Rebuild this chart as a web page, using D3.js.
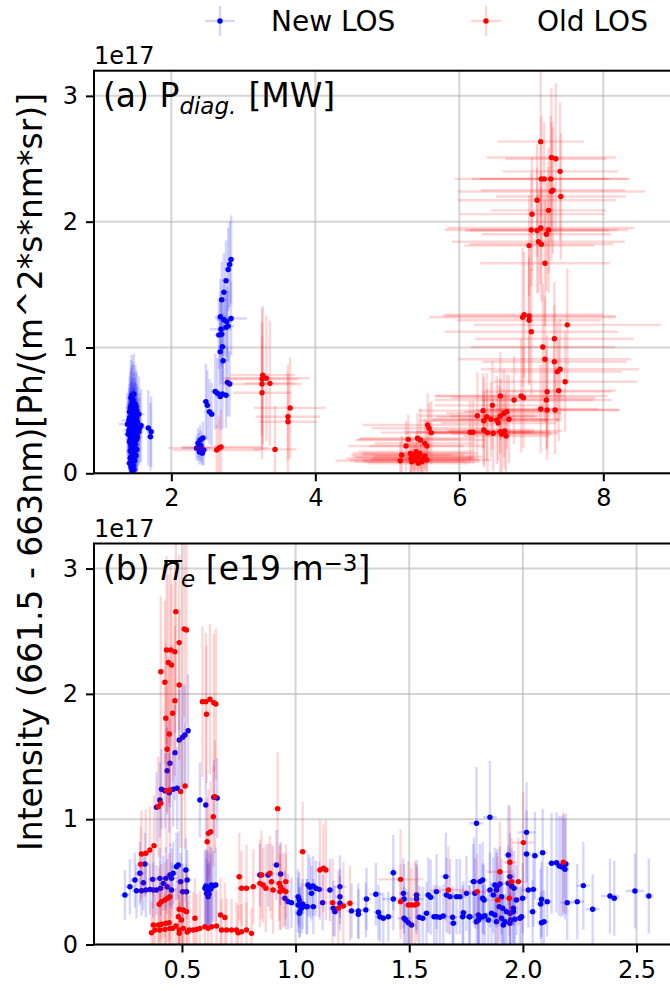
<!DOCTYPE html>
<html>
<head>
<meta charset="utf-8"/>
<script src="https://d3js.org/d3.v7.min.js"></script>
<style>
  body { margin: 0; background: #fff; }
  text { font-family: "DejaVu Sans", sans-serif; fill: #000; }
</style>
</head>
<body>
<svg id="fig" width="670" height="991"></svg>
<script>
// ticks
const pdiagTicks = [2, 4, 6, 8];
const neTicks = [0.5, 1.0, 1.5, 2.0, 2.5];
const intensityTicks = [0, 1, 2, 3];

// rows are [x, y, xerr, yerr], y in units of 1e17
// panel (a): P_diag [MW]
const pdiagNew = [
  [1.45,0.62,0.05,0.32],[1.47,0.58,0.06,0.30],[1.50,0.55,0.05,0.31],[1.43,0.52,0.07,0.29],
  [1.52,0.50,0.05,0.30],[1.46,0.48,0.06,0.28],[1.55,0.47,0.08,0.30],[1.44,0.45,0.05,0.27],
  [1.49,0.43,0.06,0.29],[1.41,0.42,0.10,0.26],[1.53,0.41,0.05,0.28],[1.47,0.40,0.06,0.27],
  [1.39,0.39,0.12,0.25],[1.50,0.38,0.05,0.27],[1.44,0.37,0.06,0.26],[1.56,0.36,0.07,0.28],
  [1.42,0.35,0.05,0.25],[1.48,0.34,0.06,0.26],[1.46,0.33,0.05,0.25],[1.51,0.32,0.08,0.27],
  [1.40,0.31,0.06,0.24],[1.45,0.30,0.05,0.25],[1.53,0.29,0.06,0.26],[1.47,0.28,0.05,0.24],
  [1.43,0.27,0.07,0.23],[1.50,0.26,0.05,0.25],[1.46,0.24,0.06,0.23],[1.44,0.22,0.05,0.22],
  [1.48,0.20,0.06,0.22],[1.52,0.19,0.05,0.21],[1.45,0.17,0.06,0.20],[1.47,0.15,0.05,0.20],
  [1.43,0.12,0.05,0.18],[1.49,0.10,0.06,0.17],[1.46,0.07,0.05,0.15],[1.45,0.04,0.05,0.12],
  [1.48,0.40,0.06,0.28],[1.42,0.44,0.05,0.27],[1.55,0.33,0.06,0.27],[1.58,0.38,0.05,0.29],
  [1.44,0.60,0.06,0.30],[1.48,0.63,0.05,0.32],[1.46,0.56,0.07,0.30],[1.51,0.53,0.05,0.29],
  [1.42,0.49,0.06,0.28],[1.49,0.47,0.05,0.29],[1.45,0.46,0.08,0.28],[1.52,0.44,0.06,0.27],
  [1.47,0.42,0.05,0.28],[1.43,0.40,0.06,0.26],[1.50,0.36,0.07,0.27],[1.46,0.35,0.05,0.26],
  [1.41,0.34,0.08,0.25],[1.49,0.31,0.06,0.26],[1.44,0.29,0.05,0.24],[1.48,0.27,0.06,0.25],
  [1.42,0.25,0.05,0.23],[1.50,0.23,0.06,0.24],[1.45,0.21,0.05,0.22],[1.47,0.19,0.07,0.21],
  [1.43,0.18,0.05,0.20],[1.49,0.16,0.06,0.20],[1.46,0.14,0.05,0.19],[1.44,0.13,0.06,0.18],
  [1.48,0.11,0.05,0.17],[1.45,0.09,0.06,0.16],[1.47,0.06,0.05,0.14],[1.44,0.05,0.05,0.13],
  [1.48,0.03,0.06,0.12],[1.46,0.02,0.05,0.10],[1.51,0.14,0.05,0.18],[1.42,0.08,0.06,0.15],
  [1.50,0.45,0.05,0.28],[1.45,0.39,0.06,0.27],[1.47,0.36,0.05,0.26],[1.43,0.31,0.05,0.25],
  [1.52,0.27,0.06,0.26],[1.46,0.26,0.05,0.24],[1.48,0.51,0.05,0.29],[1.44,0.54,0.06,0.30],
  [1.68,0.36,0.05,0.30],[1.72,0.33,0.05,0.28],[1.71,0.29,0.05,0.27],
  [2.83,1.70,0.05,0.35],[2.81,1.66,0.05,0.34],[2.79,1.62,0.05,0.33],[2.76,1.53,0.06,0.32],
  [2.73,1.44,0.05,0.31],[2.70,1.38,0.06,0.30],[2.68,1.245,0.08,0.30],[2.73,1.22,0.10,0.29],
  [2.77,1.205,0.07,0.28],[2.83,1.23,0.22,0.29],[2.79,1.17,0.08,0.28],[2.76,1.16,0.06,0.27],
  [2.69,1.145,0.15,0.28],[2.66,1.10,0.06,0.27],[2.70,1.105,0.05,0.26],[2.71,1.006,0.06,0.27],
  [2.68,0.967,0.05,0.26],[2.72,0.895,0.06,0.25],[2.78,0.723,0.08,0.27],[2.81,0.71,0.05,0.26],
  [2.61,0.65,0.06,0.30],[2.64,0.636,0.05,0.28],[2.68,0.61,0.07,0.27],[2.71,0.63,0.05,0.28],
  [2.76,0.62,0.06,0.26],[2.48,0.57,0.05,0.30],[2.50,0.54,0.05,0.28],[2.53,0.49,0.06,0.26],
  [2.56,0.47,0.05,0.25],[2.40,0.265,0.06,0.12],[2.44,0.28,0.05,0.13],[2.37,0.24,0.05,0.12],
  [2.35,0.20,0.20,0.10],[2.42,0.19,0.06,0.11],[2.39,0.17,0.05,0.10],[2.45,0.185,0.06,0.12],
  [2.41,0.22,0.05,0.12],[2.38,0.21,0.06,0.11],[2.43,0.16,0.05,0.10]
];
const pdiagOld = [
  [2.63,0.185,0.60,0.20],[2.66,0.20,0.70,0.25],[2.69,0.21,0.55,0.30],
  [3.27,0.78,0.45,0.55],[3.32,0.755,0.60,0.50],[3.26,0.75,0.50,0.45],[3.37,0.715,0.35,0.50],
  [3.26,0.71,0.55,0.60],[3.26,0.64,0.40,0.45],[3.44,0.19,0.30,0.35],[3.65,0.52,0.50,0.40],
  [3.62,0.45,0.45,0.35],[3.62,0.41,0.40,0.45],
  [7.13,2.636,0.6,0.60],[7.28,2.51,0.9,0.55],[7.34,2.50,0.7,0.60],[7.40,2.40,0.8,0.55],
  [7.14,2.34,1.2,0.50],[7.18,2.34,0.9,0.45],[7.27,2.34,1.1,0.50],[7.28,2.24,1.3,0.55],
  [7.30,2.25,1.0,0.50],[7.41,2.20,0.9,0.50],[7.08,2.17,1.1,0.45],[7.24,2.09,0.8,0.50],
  [7.01,2.06,1.0,0.45],[7.00,1.934,1.2,0.45],[7.08,1.93,1.0,0.50],[7.13,1.95,1.3,0.45],
  [7.24,1.934,1.1,0.50],[7.21,1.90,0.9,0.45],[7.10,1.84,1.2,0.40],[7.14,1.82,1.0,0.45],
  [6.97,1.81,0.9,0.40],[7.19,1.67,0.9,0.50],[6.88,1.24,1.3,0.55],[6.90,1.26,1.1,0.50],
  [6.97,1.25,1.2,0.55],[6.97,1.216,1.0,0.50],[7.50,1.18,1.3,0.45],[7.00,1.125,1.2,0.50],
  [7.32,1.07,1.1,0.45],[7.16,1.004,1.0,0.50],[7.19,0.906,1.2,0.50],[7.32,0.887,1.0,0.45],
  [7.40,0.827,1.1,0.40],[7.36,0.808,0.9,0.40],[7.47,0.728,1.0,0.40],[7.38,0.657,0.8,0.40],
  [7.22,0.649,0.9,0.45],[6.86,0.615,1.2,0.45],[6.89,0.60,1.0,0.40],[6.76,0.583,1.1,0.35],
  [7.21,0.583,0.9,0.40],[7.13,0.511,0.8,0.35],[7.22,0.503,1.0,0.40],[7.33,0.503,0.9,0.35],
  [6.57,0.615,0.9,0.35],[6.46,0.54,0.8,0.35],[6.33,0.498,0.9,0.30],[6.25,0.458,0.8,0.35],
  [6.38,0.45,0.7,0.35],[6.44,0.43,0.8,0.30],[6.52,0.424,0.9,0.35],[6.57,0.455,0.7,0.30],
  [6.62,0.477,0.8,0.35],[6.66,0.49,0.6,0.30],[6.69,0.43,0.7,0.35],[6.54,0.40,0.8,0.30],
  [6.34,0.418,0.9,0.35],[6.34,0.344,0.7,0.30],[6.39,0.323,0.8,0.35],[6.47,0.318,0.9,0.30],
  [6.57,0.33,0.7,0.35],[6.63,0.336,0.8,0.30],[6.65,0.296,0.6,0.35],[6.59,0.312,0.7,0.30],
  [6.15,0.326,0.9,0.25],[6.19,0.326,0.8,0.25],[5.56,0.384,0.9,0.25],[5.58,0.358,0.8,0.20],
  [5.61,0.323,0.7,0.25],[5.42,0.278,0.8,0.20],[5.46,0.265,0.9,0.25],[5.52,0.238,0.7,0.20],
  [5.55,0.217,0.8,0.20],[5.29,0.27,0.7,0.20],[5.26,0.217,0.8,0.20],[5.20,0.145,0.7,0.15],
  [5.18,0.10,0.9,0.15],[5.32,0.158,0.8,0.15],[5.36,0.145,0.7,0.12],[5.42,0.132,0.9,0.15],
  [5.45,0.158,0.8,0.12],[5.50,0.119,0.7,0.15],[5.38,0.106,0.9,0.12],[5.34,0.092,0.8,0.12],
  [5.43,0.079,0.7,0.12],[5.48,0.092,0.8,0.15],[5.52,0.138,0.7,0.12],[5.40,0.172,0.8,0.15],
  [5.55,0.106,0.9,0.12],[5.37,0.125,0.8,0.12],[5.47,0.112,0.7,0.12],[5.33,0.118,0.9,0.15]
];

// panel (b): line averaged density [e19 m^-3]
const neNew = [
  [0.527,1.706,0.01,0.45],[0.513,1.672,0.01,0.40],[0.503,1.654,0.01,0.42],[0.488,1.632,0.01,0.40],
  [0.469,1.531,0.01,0.38],[0.447,1.446,0.01,0.35],[0.435,1.387,0.01,0.35],[0.41,1.239,0.01,0.32],
  [0.425,1.227,0.01,0.30],[0.444,1.211,0.01,0.32],[0.461,1.239,0.01,0.30],[0.479,1.247,0.01,0.33],
  [0.403,1.153,0.01,0.30],[0.388,1.095,0.01,0.28],[0.579,1.153,0.01,0.30],[0.605,1.113,0.01,0.28],
  [0.64,1.175,0.01,0.30],[0.655,1.169,0.01,0.32],
  [0.249,0.395,0.02,0.20],[0.271,0.461,0.02,0.22],[0.293,0.515,0.02,0.22],[0.315,0.568,0.02,0.25],
  [0.337,0.642,0.02,0.25],[0.30,0.429,0.02,0.22],[0.322,0.429,0.02,0.20],[0.341,0.435,0.02,0.22],
  [0.359,0.44,0.02,0.20],[0.374,0.435,0.02,0.22],[0.388,0.435,0.02,0.20],[0.406,0.449,0.02,0.22],
  [0.418,0.488,0.02,0.22],[0.429,0.528,0.02,0.25],[0.447,0.555,0.02,0.25],[0.461,0.568,0.02,0.25],
  [0.476,0.621,0.02,0.27],[0.484,0.634,0.02,0.27],[0.454,0.528,0.02,0.24],[0.435,0.461,0.02,0.22],
  [0.454,0.435,0.02,0.22],[0.494,0.501,0.02,0.23],[0.503,0.421,0.02,0.22],[0.52,0.421,0.02,0.22],
  [0.523,0.515,0.02,0.24],[0.517,0.595,0.02,0.25],[0.33,0.493,0.02,0.22],[0.371,0.52,0.02,0.23],
  [0.403,0.528,0.02,0.24],
  [0.601,0.449,0.01,0.30],[0.608,0.409,0.01,0.28],[0.615,0.435,0.01,0.30],[0.623,0.461,0.01,0.32],
  [0.63,0.475,0.01,0.30],[0.638,0.467,0.01,0.28],[0.649,0.475,0.01,0.30],[0.615,0.381,0.01,0.26],
  [0.605,0.467,0.01,0.30],[0.611,0.455,0.01,0.30],[0.627,0.442,0.01,0.28],[0.619,0.402,0.01,0.26],
  [0.843,0.555,0.02,0.25],[0.879,0.555,0.02,0.25],[0.916,0.634,0.02,0.28],[0.934,0.563,0.02,0.25],
  [0.953,0.369,0.02,0.22],[0.967,0.342,0.02,0.22],[0.982,0.334,0.02,0.20],[1.011,0.315,0.02,0.22],
  [1.019,0.262,0.02,0.20],[1.016,0.355,0.02,0.22],[1.026,0.289,0.02,0.20],[1.048,0.302,0.02,0.22],
  [1.055,0.475,0.02,0.25],[1.011,0.381,0.02,0.22],[1.031,0.323,0.02,0.20],[1.016,0.249,0.02,0.20],
  [1.063,0.456,0.02,0.24],[1.077,0.467,0.02,0.24],[1.089,0.449,0.02,0.22],[1.104,0.44,0.02,0.22],
  [1.07,0.409,0.02,0.22],
  [1.051,0.302,0.02,0.22],[1.078,0.302,0.02,0.22],[1.119,0.334,0.02,0.22],[1.151,0.435,0.02,0.25],
  [1.195,0.462,0.03,0.25],[1.195,0.382,0.02,0.22],[1.195,0.329,0.02,0.22],[1.166,0.289,0.02,0.22],
  [1.173,0.262,0.02,0.20],[1.246,0.268,0.02,0.22],[1.276,0.268,0.02,0.22],[1.276,0.241,0.02,0.20],
  [1.309,0.276,0.02,0.22],[1.312,0.363,0.02,0.25],[1.353,0.401,0.03,0.25],[1.364,0.257,0.02,0.22],
  [1.371,0.222,0.02,0.20],[1.386,0.209,0.02,0.20],[1.408,0.222,0.02,0.20],[1.430,0.573,0.02,0.30],
  [1.430,0.363,0.05,0.25],[1.474,0.408,0.02,0.28],[1.477,0.363,0.02,0.28],[1.477,0.209,0.03,0.25],
  [1.485,0.196,0.02,0.25],[1.496,0.174,0.02,0.25],[1.510,0.156,0.02,0.22],[1.532,0.395,0.02,0.28],
  [1.532,0.363,0.03,0.28],[1.544,0.217,0.02,0.25],[1.559,0.209,0.02,0.25],[1.576,0.249,0.02,0.25],
  [1.584,0.395,0.02,0.30],[1.594,0.377,0.02,0.30],[1.609,0.222,0.02,0.25],[1.620,0.422,0.02,0.30],
  [1.620,0.222,0.02,0.25],[1.635,0.217,0.02,0.25],[1.650,0.228,0.02,0.25],[1.661,0.542,0.02,0.35],
  [1.664,0.395,0.02,0.30],[1.679,0.382,0.02,0.30],[1.691,0.217,0.02,0.25],[1.694,0.169,0.02,0.25],
  [1.708,0.382,0.02,0.30],[1.723,0.382,0.03,0.30],[1.735,0.222,0.02,0.25],[1.752,0.408,0.02,0.30],
  [1.764,0.222,0.02,0.25],[1.785,0.502,0.02,0.35],[1.796,0.967,0.03,0.45],[1.804,0.196,0.02,0.25],
  [1.855,1.015,0.03,0.45],[2.016,0.895,0.04,0.40],[1.936,0.714,0.02,0.40],[1.943,0.542,0.02,0.35],
  [2.016,0.722,0.02,0.35],[2.053,0.709,0.02,0.35],[2.087,0.733,0.02,0.35],[2.126,0.648,0.02,0.40],
  [2.148,0.653,0.02,0.40],[2.160,0.627,0.02,0.40],[2.170,0.621,0.02,0.40],[2.185,0.600,0.02,0.40],
  [2.189,0.643,0.02,0.40],[2.178,0.635,0.02,0.40],[2.266,0.470,0.03,0.35],[1.782,0.502,0.02,0.30],
  [1.811,0.502,0.02,0.30],[1.823,0.515,0.02,0.30],[1.877,0.475,0.02,0.30],[1.887,0.462,0.02,0.30],
  [1.899,0.483,0.02,0.30],[1.884,0.435,0.02,0.30],[1.855,0.435,0.02,0.30],[1.870,0.395,0.02,0.30],
  [1.906,0.382,0.02,0.30],[1.936,0.488,0.02,0.30],[1.950,0.467,0.02,0.30],[1.961,0.448,0.02,0.30],
  [1.789,0.409,0.02,0.28],[1.823,0.369,0.02,0.28],[1.829,0.355,0.02,0.28],[2.024,0.435,0.03,0.30],
  [2.046,0.440,0.02,0.30],[1.999,0.369,0.02,0.28],[1.972,0.355,0.02,0.28],[1.958,0.289,0.02,0.28],
  [2.082,0.361,0.02,0.30],[2.078,0.323,0.02,0.28],[2.107,0.342,0.02,0.28],[2.195,0.334,0.03,0.30],
  [2.239,0.342,0.03,0.30],[2.307,0.281,0.03,0.28],[2.043,0.262,0.02,0.25],[1.738,0.254,0.02,0.25],
  [1.767,0.222,0.02,0.25],[1.804,0.236,0.02,0.25],[1.823,0.222,0.02,0.25],[1.833,0.230,0.02,0.25],
  [1.862,0.249,0.02,0.25],[1.877,0.236,0.02,0.25],[1.896,0.302,0.02,0.28],[1.911,0.289,0.02,0.28],
  [1.928,0.262,0.02,0.25],[1.943,0.249,0.02,0.25],[1.958,0.262,0.02,0.25],[1.906,0.209,0.02,0.25],
  [1.921,0.182,0.02,0.22],[1.946,0.196,0.02,0.22],[1.965,0.201,0.02,0.22],[1.994,0.222,0.02,0.25],
  [1.987,0.209,0.02,0.25],[1.796,0.182,0.02,0.22],[1.808,0.209,0.02,0.22],[1.848,0.196,0.02,0.22],
  [1.884,0.182,0.02,0.22],[1.914,0.156,0.02,0.22],[1.943,0.169,0.02,0.22],[2.082,0.174,0.02,0.25],
  [2.093,0.182,0.02,0.25],[2.383,0.387,0.04,0.30],[2.402,0.369,0.02,0.30],[2.493,0.427,0.04,0.30],
  [2.554,0.387,0.02,0.30]
];
const neOld = [
  [0.473,2.656,0.01,0.80],[0.51,2.518,0.01,0.70],[0.52,2.51,0.01,0.75],[0.488,2.409,0.01,0.70],
  [0.432,2.35,0.01,0.75],[0.45,2.35,0.01,0.70],[0.469,2.337,0.01,0.65],[0.44,2.25,0.01,0.70],
  [0.454,2.23,0.01,0.65],[0.407,2.177,0.01,0.60],[0.425,2.093,0.01,0.65],[0.488,2.071,0.01,0.60],
  [0.469,1.946,0.01,0.60],[0.459,1.845,0.01,0.55],[0.429,1.805,0.01,0.60],[0.444,1.68,0.01,0.55],
  [0.435,1.558,0.01,0.50],[0.514,1.265,0.01,0.50],[0.494,1.22,0.01,0.45],[0.432,1.227,0.01,0.50],
  [0.447,1.233,0.01,0.45],[0.407,1.127,0.01,0.45],[0.396,1.10,0.01,0.40],[0.377,0.789,0.01,0.40],
  [0.359,0.754,0.01,0.35],[0.341,0.728,0.01,0.35],[0.322,0.722,0.01,0.35],[0.318,0.64,0.01,0.30],
  [0.447,0.381,0.01,0.35],[0.437,0.369,0.01,0.35],[0.425,0.355,0.01,0.30],[0.41,0.342,0.01,0.30],
  [0.40,0.321,0.01,0.30],
  [0.59,1.938,0.01,0.60],[0.605,1.938,0.01,0.55],[0.623,1.957,0.01,0.60],[0.64,1.93,0.01,0.55],
  [0.649,1.919,0.01,0.60],[0.608,1.837,0.01,0.55],[0.645,1.18,0.01,0.45],[0.638,1.02,0.01,0.40],
  [0.626,0.90,0.01,0.40],[0.616,0.887,0.01,0.35],[0.611,0.82,0.01,0.35],
  [0.374,0.156,0.01,0.30],[0.396,0.156,0.01,0.28],[0.41,0.162,0.01,0.30],[0.429,0.169,0.01,0.32],
  [0.444,0.174,0.01,0.30],[0.381,0.116,0.01,0.28],[0.403,0.116,0.01,0.30],[0.425,0.121,0.01,0.28],
  [0.447,0.129,0.01,0.30],[0.366,0.094,0.01,0.25],[0.488,0.281,0.01,0.35],[0.506,0.275,0.01,0.32],
  [0.52,0.262,0.01,0.30],[0.484,0.222,0.01,0.32],[0.498,0.196,0.01,0.30],[0.488,0.116,0.01,0.28],
  [0.506,0.129,0.01,0.30],[0.532,0.116,0.01,0.28],[0.55,0.116,0.01,0.30],[0.565,0.121,0.01,0.28],
  [0.579,0.129,0.01,0.30],[0.557,0.209,0.01,0.32],[0.601,0.142,0.01,0.30],[0.615,0.129,0.01,0.28],
  [0.63,0.142,0.01,0.30],[0.652,0.148,0.01,0.28],[0.67,0.235,0.01,0.30],[0.689,0.215,0.01,0.28],
  [0.674,0.116,0.01,0.25],[0.696,0.116,0.01,0.25],[0.718,0.116,0.01,0.25],[0.74,0.116,0.01,0.22],
  [0.747,0.094,0.01,0.22],[0.762,0.102,0.01,0.22],[0.784,0.116,0.01,0.22],[0.806,0.089,0.01,0.20],
  [0.459,0.129,0.01,0.28],[0.473,0.148,0.01,0.30],[0.488,0.089,0.01,0.25],[0.523,0.099,0.01,0.25],
  [0.752,0.541,0.02,0.35],[0.762,0.449,0.02,0.30],[0.784,0.449,0.02,0.35],[0.814,0.461,0.02,0.30],
  [0.843,0.488,0.02,0.35],[0.857,0.475,0.02,0.30],[0.869,0.449,0.02,0.35],[0.894,0.501,0.02,0.30],
  [0.901,0.435,0.02,0.35],[0.928,0.488,0.02,0.30],[0.934,0.461,0.02,0.35],[0.945,0.435,0.02,0.30],
  [0.85,0.555,0.02,0.35],[0.887,0.568,0.02,0.30],[0.921,1.084,0.02,0.45],[0.931,0.422,0.02,0.30],
  [0.957,0.502,0.02,0.30],[0.957,0.422,0.02,0.30],[1.031,0.741,0.02,0.40],[1.107,0.595,0.02,0.40],
  [1.122,0.608,0.02,0.35],[1.133,0.595,0.02,0.40],[1.163,0.334,0.02,0.35],[1.188,0.289,0.02,0.30],
  [1.210,0.307,0.02,0.35],[1.239,0.329,0.02,0.30],[1.462,0.520,0.10,0.40],[1.462,0.342,0.02,0.30],
  [1.496,0.315,0.02,0.35],[1.510,0.315,0.02,0.30],[1.525,0.315,0.02,0.35],[1.535,0.323,0.02,0.30],
  [1.672,0.435,0.08,0.35],[1.799,0.422,0.08,0.30],[1.889,0.355,0.03,0.35],[1.899,0.581,0.06,0.40],
  [1.943,0.656,0.03,0.45],[1.950,0.502,0.03,0.35],[1.980,0.502,0.03,0.35],[1.940,0.369,0.03,0.30],
  [2.002,0.813,0.05,0.40],[2.178,0.656,0.02,0.40]
];

const svg = d3.select("svg#fig");
const left = 94;
const tickFont = "24px";
const errAlpha = 0.16;

const panels = [
  { key: "a",
    x: d3.scaleLinear().domain([0.926, 9.0]).range([left, 675.3]),
    y: d3.scaleLinear().domain([0, 3.2]).range([473.3, 70.7]),
    xTicks: pdiagTicks, fmt: d3.format("d"), blue: pdiagNew, red: pdiagOld },
  { key: "b",
    x: d3.scaleLinear().domain([0.113, 2.66]).range([left, 672.9]),
    y: d3.scaleLinear().domain([0, 3.2]).range([944.5, 543.5]),
    xTicks: neTicks, fmt: d3.format(".1f"), blue: neNew, red: neOld }
];

panels.forEach(function(p) {
  let x0 = p.x.range()[0], x1 = p.x.range()[1];
  let yb = p.y.range()[0], yt = p.y.range()[1];

  svg.append("clipPath").attr("id", "clip" + p.key)
    .append("rect").attr("x", x0).attr("y", yt).attr("width", x1 - x0).attr("height", yb - yt);

  // grid
  let grid = svg.append("g");
  p.xTicks.forEach(function(t) {
    grid.append("line")
      .attr("x1", p.x(t)).attr("x2", p.x(t)).attr("y1", yt).attr("y2", yb)
      .style("stroke", "#b0b0b0").style("stroke-opacity", 0.55).style("stroke-width", 2);
  });
  intensityTicks.forEach(function(t) {
    grid.append("line")
      .attr("x1", x0).attr("x2", x1).attr("y1", p.y(t)).attr("y2", p.y(t))
      .style("stroke", "#b0b0b0").style("stroke-opacity", 0.55).style("stroke-width", 2);
  });

  // error bars + points, blue first then red on top
  let plot = svg.append("g").attr("clip-path", "url(#clip" + p.key + ")");
  [[p.blue, "#0000ff"], [p.red, "#ff0000"]].forEach(function(s) {
    let data = s[0], col = s[1];
    let eb = plot.append("g").style("stroke", col).style("stroke-opacity", errAlpha).style("stroke-width", 2.4);
    eb.selectAll("line.v").data(data).enter().append("line")
      .attr("x1", d => p.x(d[0])).attr("x2", d => p.x(d[0]))
      .attr("y1", d => p.y(d[1] - d[3])).attr("y2", d => p.y(d[1] + d[3]));
    eb.selectAll("line.h").data(data).enter().append("line")
      .attr("x1", d => p.x(d[0] - d[2])).attr("x2", d => p.x(d[0] + d[2]))
      .attr("y1", d => p.y(d[1])).attr("y2", d => p.y(d[1]));
    plot.append("g").selectAll("circle").data(data).enter().append("circle")
      .attr("cx", d => p.x(d[0])).attr("cy", d => p.y(d[1])).attr("r", 2.7)
      .style("fill", col);
  });

  // frame
  svg.append("rect").attr("x", x0).attr("y", yt).attr("width", x1 - x0).attr("height", yb - yt)
    .style("fill", "none").style("stroke", "#000").style("stroke-width", 2);

  // axes
  let xa = svg.append("g").attr("transform", "translate(0," + yb + ")")
    .call(d3.axisBottom(p.x).tickValues(p.xTicks).tickFormat(p.fmt).tickSize(8).tickSizeOuter(0).tickPadding(8));
  let ya = svg.append("g").attr("transform", "translate(" + x0 + ",0)")
    .call(d3.axisLeft(p.y).tickValues(intensityTicks).tickFormat(d3.format("d")).tickSize(8).tickSizeOuter(0).tickPadding(8));
  [xa, ya].forEach(function(a) {
    a.select(".domain").remove();
    a.selectAll(".tick line").style("stroke", "#000").style("stroke-width", 2);
    a.selectAll(".tick text").style("font-size", tickFont).style("font-family", "DejaVu Sans").style("fill", "#000");
  });

  // offset text
  svg.append("text").attr("x", x0).attr("y", yt - 7).style("font-size", tickFont).text("1e17");
});

// panel labels
let ta = svg.append("text").attr("x", 103).attr("y", 107).style("font-size", "33px");
ta.append("tspan").text("(a) P");
ta.append("tspan").attr("dy", 7).style("font-size", "23px").style("font-style", "italic").text("diag.");
ta.append("tspan").attr("dy", -7).attr("dx", 12).text("[MW]");

let tb = svg.append("text").attr("x", 103).attr("y", 580).style("font-size", "33px");
tb.append("tspan").text("(b) ");
tb.append("tspan").style("font-style", "italic").text("n");
tb.append("tspan").attr("dy", 7).style("font-size", "23px").style("font-style", "italic").text("e");
tb.append("tspan").attr("dy", -7).text(" [e19 m");
tb.append("tspan").attr("dy", -9).style("font-size", "23px").text("\u22123");
tb.append("tspan").attr("dy", 9).text("]");
// overline on n
let nBox = tb.node().getExtentOfChar(4);
svg.append("line")
  .attr("x1", nBox.x + 4).attr("x2", nBox.x + nBox.width + 1)
  .attr("y1", 561).attr("y2", 561)
  .style("stroke", "#000").style("stroke-width", 2);

// y label
svg.append("text")
  .attr("transform", "translate(42,472) rotate(-90)")
  .attr("text-anchor", "middle")
  .style("font-size", "33px")
  .text("Intensity (661.5 - 663nm)[Ph/(m^2*s*nm*sr)]");

// legend
const legendItems = [["New LOS", "#0000ff", 220], ["Old LOS", "#ff0000", 486]];
let lg = svg.append("g");
legendItems.forEach(function(it) {
  let cx = it[2], cy = 21;
  lg.append("line").attr("x1", cx - 15).attr("x2", cx + 15).attr("y1", cy).attr("y2", cy)
    .style("stroke", it[1]).style("stroke-opacity", errAlpha).style("stroke-width", 2.4);
  lg.append("line").attr("x1", cx).attr("x2", cx).attr("y1", cy - 15).attr("y2", cy + 15)
    .style("stroke", it[1]).style("stroke-opacity", errAlpha).style("stroke-width", 2.4);
  lg.append("circle").attr("cx", cx).attr("cy", cy).attr("r", 2.7).style("fill", it[1]);
  lg.append("text").attr("x", cx + 51).attr("y", cy + 10).style("font-size", "28px").text(it[0]);
});
</script>
</body>
</html>
